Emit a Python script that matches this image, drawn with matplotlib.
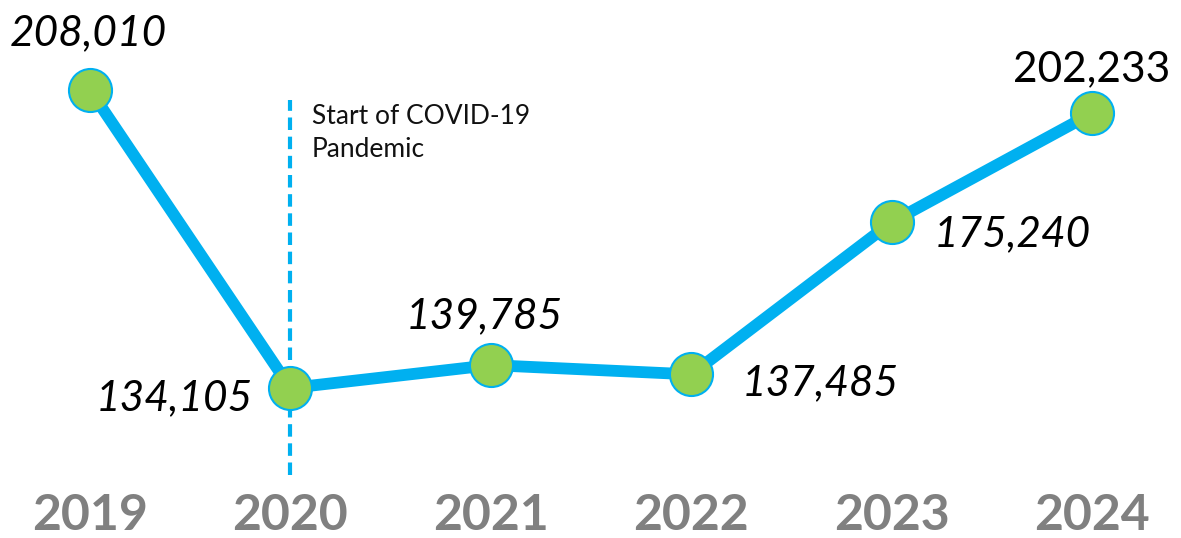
import matplotlib.pyplot as plt

# data
years = [2019, 2020, 2021, 2022, 2023, 2024]
values = [208010, 134105, 139785, 137485, 175240, 202233]
covid_year = 2020
covid_label = "Start of COVID-19\nPandemic"

# label placement (offset in points, alignment, italic)
label_style = [
    ((-1, 41), "center", "italic"),
    ((-27, -7), "right", "italic"),
    ((-5, 35), "center", "italic"),
    ((36, -6), "left", "italic"),
    ((30, -9), "left", "italic"),
    ((0, 32), "center", "normal"),
]

plt.rcParams['font.family'] = ['Lato', 'DejaVu Sans']

fig = plt.figure(figsize=(11.81, 5.38), dpi=100)
ax = fig.add_axes([0, 0, 1, 1])

blue = '#00B0F0'
green = '#92D050'

# covid line
ax.plot([covid_year, covid_year], [112500, 205500], color=blue, linewidth=3,
        linestyle=(0, (3, 1.6)), zorder=1)
ax.text(covid_year + 0.108, 204500, covid_label, fontsize=19, color='#111111',
        va='top', ha='left', linespacing=1.4)

ax.plot(years, values, color=blue, linewidth=8.5, solid_capstyle='round',
        marker='o', markersize=31, markerfacecolor=green,
        markeredgecolor=blue, markeredgewidth=1.5, zorder=2)

for x, v, (off, ha, style) in zip(years, values, label_style):
    ax.annotate(f"{v:,}", (x, v), xytext=off, textcoords='offset points',
                ha=ha, va='center', fontsize=30.5, fontstyle=style, color='black')

for x in years:
    ax.text(x, 102600, str(x), ha='center', va='center', fontsize=36,
            fontweight='bold', color='#808080')

ax.set_xlim(2018.551, 2024.444)
ax.set_ylim(96906, 230330)
ax.axis('off')

fig.savefig('out.png', dpi=100)
